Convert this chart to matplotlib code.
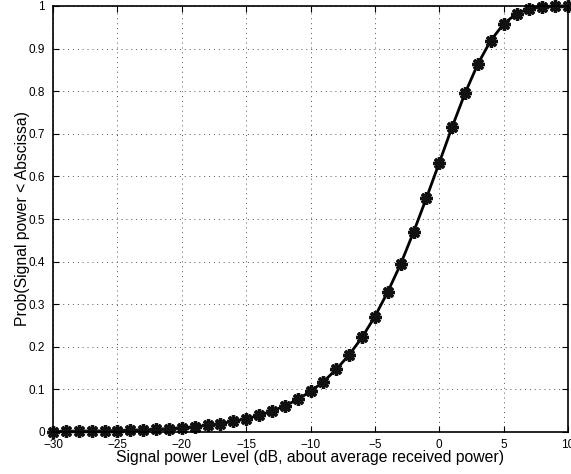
import matplotlib
matplotlib.use("Agg")
import matplotlib.pyplot as plt

x_db = [-30, -29, -28, -27, -26, -25, -24, -23, -22, -21, -20, -19, -18, -17, -16,
        -15, -14, -13, -12, -11, -10, -9, -8, -7, -6, -5, -4, -3, -2, -1,
        0, 1, 2, 3, 4, 5, 6, 7, 8, 9, 10]
prob = [0.001, 0.0013, 0.0016, 0.002, 0.0025, 0.0032, 0.004, 0.005, 0.0063, 0.0079,
        0.010, 0.0125, 0.0157, 0.0198, 0.0248, 0.0311, 0.039, 0.0489, 0.0612, 0.0764,
        0.0952, 0.118, 0.147, 0.181, 0.222, 0.271, 0.329, 0.394, 0.469, 0.549,
        0.632, 0.716, 0.795, 0.864, 0.919, 0.958, 0.982, 0.994, 0.998, 0.9998, 1.0]
x_ticks = [-30, -25, -20, -15, -10, -5, 0, 5, 10]
y_ticks = [0, 0.1, 0.2, 0.3, 0.4, 0.5, 0.6, 0.7, 0.8, 0.9, 1]
y_labels = ["0", "0.1", "0.2", "0.3", "0.4", "0.5", "0.6", "0.7", "0.8", "0.9", "1"]

plt.rcParams['font.family'] = ['Liberation Sans', 'DejaVu Sans']

fig = plt.figure(figsize=(5.71, 4.74), dpi=100)
ax = fig.add_axes([53/571, 1-432/474, (568-53)/571, (432-6)/474])

ax.plot(x_db, prob, color='black', linewidth=2.0, marker=(8, 2, 0),
        markersize=9, markeredgewidth=2.4, markeredgecolor='#111111', clip_on=False)

ax.set_xlim(-30, 10)
ax.set_ylim(0, 1)
ax.set_xticks(x_ticks)
ax.set_xticklabels([f"\u2212{abs(v)}" if v < 0 else str(v) for v in x_ticks])
ax.set_yticks(y_ticks)
ax.set_yticklabels(y_labels)
ax.tick_params(direction='in', top=True, right=True, labelsize=8.5, length=4, width=0.8)
ax.tick_params(axis='x', pad=5)
ax.tick_params(axis='y', pad=6)
ax.grid(True, linestyle=(0, (1, 4)), color='#555555', linewidth=0.7)
for s in ax.spines.values():
    s.set_linewidth(1.2)

ax.set_xlabel("Signal power Level (dB, about average received power)", fontsize=11.3, labelpad=-1)
ax.set_ylabel("Prob(Signal power < Abscissa)", fontsize=11.3, labelpad=-1)

fig.savefig("out.png", dpi=100)
